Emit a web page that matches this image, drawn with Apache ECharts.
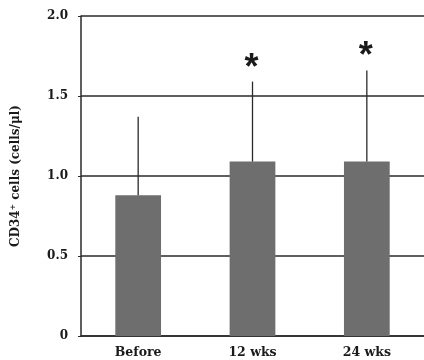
<!DOCTYPE html>
<html><head><meta charset="utf-8">
<script src="https://cdn.jsdelivr.net/npm/echarts@6/dist/echarts.min.js"></script>
<style>html,body{margin:0;padding:0;background:#fff}#c{width:424px;height:360px}</style>
</head><body><div id="c"></div>
<script>
var categories = ['Before', '12 wks', '24 wks'];
var means = [0.88, 1.09, 1.09];
var errUpper = [1.37, 1.59, 1.66];
var sigMarks = ['', '*', '*'];
var yTicks = [0, 0.5, 1.0, 1.5, 2.0];

var chart = echarts.init(document.getElementById('c'));
var font = 'DejaVu Serif';
chart.setOption({
  animation: false,
  backgroundColor: '#ffffff',
  grid: {left: 81, right: -5, top: 16, bottom: 24},
  xAxis: {
    type: 'category', data: categories,
    axisLine: {lineStyle: {color: '#2a2a2a', width: 1.5}},
    axisTick: {show: false},
    axisLabel: {color: '#1a1a1a', fontFamily: font, fontWeight: 'bold', fontSize: 12.5, margin: 10}
  },
  yAxis: {
    type: 'value', min: yTicks[0], max: yTicks[yTicks.length - 1], interval: 0.5,
    name: 'CD34\u207A cells (cells/\u03BCl)', nameLocation: 'middle', nameRotate: 90, nameGap: 59,
    nameTextStyle: {color: '#1a1a1a', fontFamily: font, fontWeight: 'bold', fontSize: 12},
    axisLine: {show: true, lineStyle: {color: '#2a2a2a', width: 1.5}},
    axisTick: {show: true, length: 3, lineStyle: {color: '#2a2a2a'}},
    splitLine: {show: true, lineStyle: {color: '#2a2a2a', width: 1.5}},
    axisLabel: {color: '#1a1a1a', fontFamily: font, fontWeight: 'bold', fontSize: 12, margin: 13,
      formatter: function (v) { return v === 0 ? '0' : v.toFixed(1); }}
  },
  series: [
    {
      type: 'bar', data: means, barWidth: '40%',
      itemStyle: {color: '#6e6e6e'}, z: 3
    },
    {
      type: 'custom', z: 4,
      data: categories.map(function (c, i) { return [i, means[i], errUpper[i]]; }),
      renderItem: function (params, api) {
        var base = api.coord([api.value(0), api.value(1)]);
        var top = api.coord([api.value(0), api.value(2)]);
        var children = [{
          type: 'line',
          shape: {x1: base[0], y1: base[1], x2: top[0], y2: top[1]},
          style: {stroke: '#2a2a2a', lineWidth: 1.3}
        }];
        var m = sigMarks[params.dataIndex];
        if (m) {
          children.push({
            type: 'text',
            style: {text: m, x: top[0] - 1, y: top[1] + 5, textAlign: 'center', textVerticalAlign: 'bottom',
              fill: '#1a1a1a', font: 'bold 36px "Liberation Sans"'}
          });
        }
        return {type: 'group', children: children};
      }
    }
  ]
});
</script></body></html>
